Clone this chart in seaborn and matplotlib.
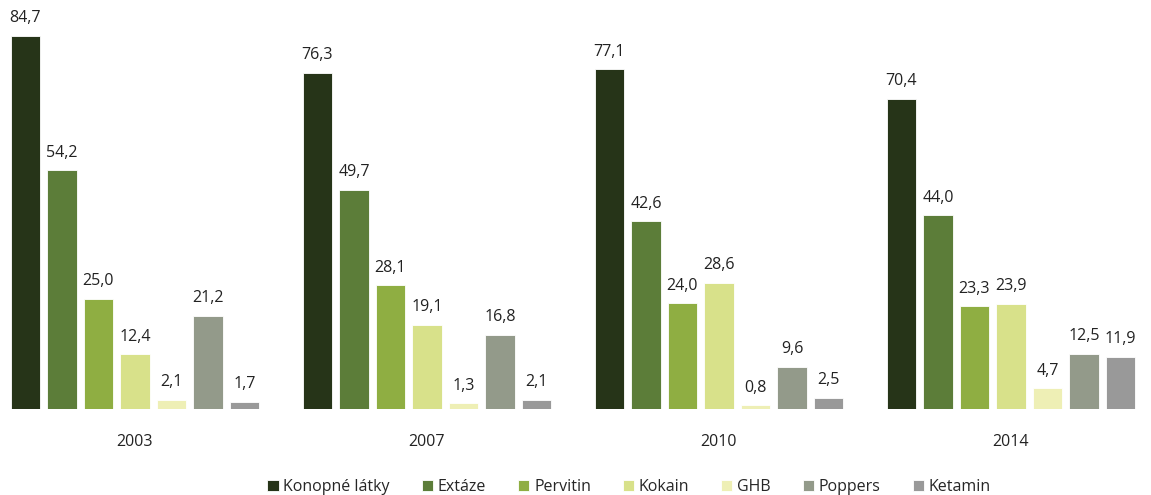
import matplotlib
matplotlib.use("Agg")
import matplotlib.pyplot as plt
import seaborn as sns
import pandas as pd

years = ["2003", "2007", "2010", "2014"]
substances = ["Konopné látky", "Extáze", "Pervitin", "Kokain", "GHB", "Poppers", "Ketamin"]
konopne = [84.7, 76.3, 77.1, 70.4]
extaze = [54.2, 49.7, 42.6, 44.0]
pervitin = [25.0, 28.1, 24.0, 23.3]
kokain = [12.4, 19.1, 28.6, 23.9]
ghb = [2.1, 1.3, 0.8, 4.7]
poppers = [21.2, 16.8, 9.6, 12.5]
ketamin = [1.7, 2.1, 2.5, 11.9]
colors = ["#263418", "#5c7d39", "#8fae42", "#d8e18a", "#eeefb5", "#939a8a", "#999999"]

series = [konopne, extaze, pervitin, kokain, ghb, poppers, ketamin]
rows = []
for name, vals in zip(substances, series):
    for y, v in zip(years, vals):
        rows.append({"rok": y, "látka": name, "hodnota": v})
df = pd.DataFrame(rows)

sns.set_theme(style="white")
plt.rcParams["font.family"] = ["Open Sans", "DejaVu Sans"]

fig = plt.figure(figsize=(11.51, 4.95), dpi=100)
ax = fig.add_axes([0, 86 / 495, 1, 409 / 495])

sns.barplot(data=df, x="rok", y="hodnota", hue="látka", hue_order=substances,
            order=years, palette=colors, saturation=1, width=0.875, gap=0.2,
            edgecolor="white", linewidth=0.6, ax=ax, legend=True)

for cont in ax.containers:
    labels = [f"{b.get_height():.1f}".replace(".", ",") for b in cont]
    ax.bar_label(cont, labels=labels, padding=7, fontsize=11.5, color="#222222")

ax.set_xlim(-135 / 292, (1151 - 135) / 292)
ax.set_ylim(0, 409 / 4.404)
ax.set_yticks([])
ax.set_xlabel("")
ax.set_ylabel("")
ax.tick_params(axis="x", length=0, pad=18, labelsize=11.5, colors="#222222")
for s in ax.spines.values():
    s.set_visible(False)

handles, labels = ax.get_legend_handles_labels()
ax.get_legend().remove()
fig.legend(handles, labels, loc="center", bbox_to_anchor=(629 / 1151, 1 - 487 / 495),
           ncol=7, frameon=False, fontsize=11.5, handlelength=0.7, handleheight=0.7,
           handletextpad=0.3, columnspacing=2.0, borderaxespad=0)

fig.savefig("out.png", dpi=100)
